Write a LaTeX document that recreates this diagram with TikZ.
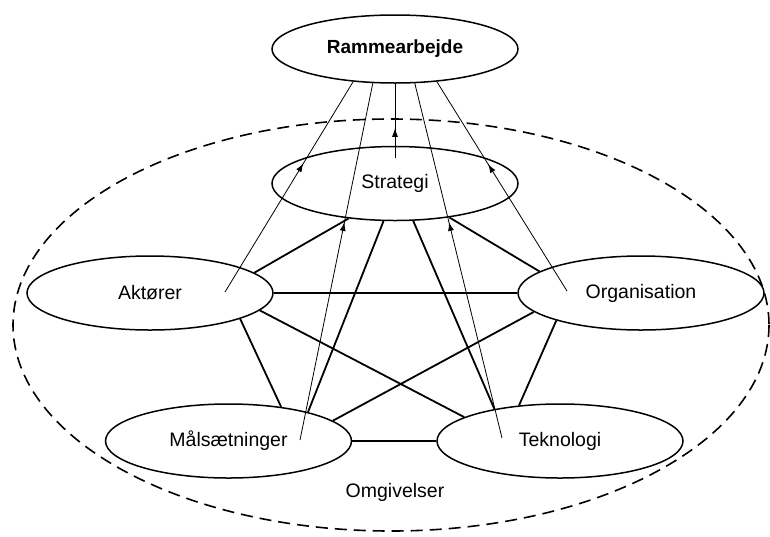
\documentclass[tikz,border=0pt]{standalone}
\usepackage{fontspec}
\setmainfont{Liberation Sans}
\usetikzlibrary{shapes.geometric,arrows.meta,decorations.markings}

\tikzset{
  ell/.style={ellipse, draw, line width=1.5pt, fill=white, inner sep=0pt,
    minimum width=246pt, minimum height=74pt,
    font=\fontsize{19.5}{23}\selectfont},
  link/.style={line width=1.8pt},
  feed/.style={line width=0.8pt},
  midarrow/.style={postaction={decorate}, decoration={markings,
    mark=at position #1 with {\arrow{Latex[length=8.5pt,width=6pt]}}}},
  envline/.style={line width=1.6pt, dash pattern=on 12pt off 7pt}
}

\begin{document}
\begin{tikzpicture}[x=1pt,y=-1pt]
  \useasboundingbox (0,0) rectangle (770,536);

  % surrounding environment
  \draw[envline] (391,325) ellipse [x radius=378, y radius=206];
  \node[font=\fontsize{19.5}{23}\selectfont] (omg) at (395,492) {Omgivelser};

  % framework and the five elements
  \node[ell, minimum height=68pt, font=\fontsize{19}{23}\selectfont\bfseries] (R) at (395,49) {Rammearbejde};
  \node[ell] (S) at (395,183.5) {Strategi};
  \node[ell] (A) at (150,293) {Aktører};
  \node[ell] (O) at (641,293) {Organisation};
  \node[ell] (M) at (228.5,441) {Målsætninger};
  \node[ell] (T) at (560,441) {Teknologi};

  % every element is linked to every other
  \draw[link] (A.11.4) -- (S.-143.5);
  \draw[link] (O.168) -- (S.-32.8);
  \draw[link] (S.-107.3) -- (M.20.4);
  \draw[link] (S.-64.9) -- (T.154.8);
  \draw[link] (A.-16.7) -- (M.33.8);
  \draw[link] (A.0) -- (O.180);
  \draw[link] (A.-9.5) -- (T.166.5);
  \draw[link] (O.-170.6) -- (M.11.6);
  \draw[link] (O.-162) -- (T.139.7);
  \draw[link] (M.0) -- (T.180);

  % influence on the framework
  \coordinate (a1) at (225,292);
  \coordinate (m1) at (300,440);
  \coordinate (s1) at (395,158);
  \coordinate (t1) at (502,438);
  \coordinate (o1) at (567,291);
  \draw[feed, midarrow=0.611] (a1) -- (R.-142.7);
  \draw[feed, midarrow=0.61] (m1) -- (R.-123.3);
  \draw[feed, midarrow=0.4] (s1) -- (R.south);
  \draw[feed, midarrow=0.608] (t1) -- (R.-60.5);
  \draw[feed, midarrow=0.605] (o1) -- (R.-38.8);
\end{tikzpicture}
\end{document}
